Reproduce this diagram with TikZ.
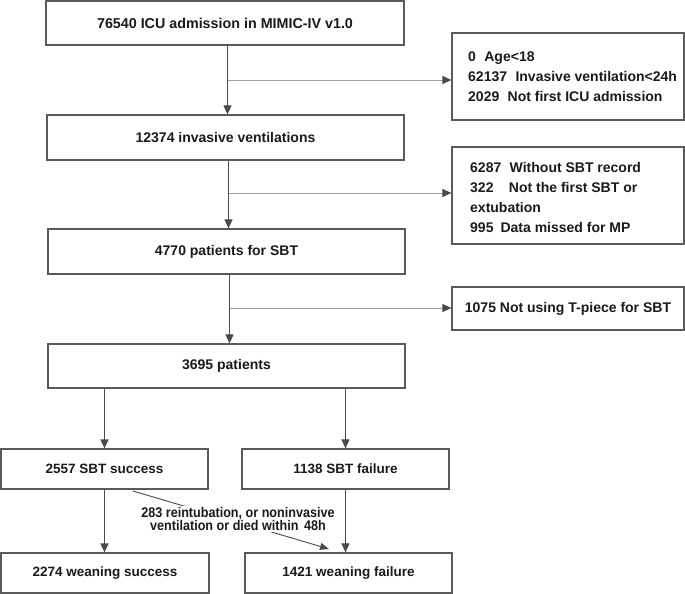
\documentclass[tikz,border=0pt]{standalone}
\usepackage{fontspec}
\setmainfont{Liberation Sans}
\newfontfamily\narrowfont{Liberation Sans}[FakeStretch=0.9]
\usetikzlibrary{arrows.meta}
\definecolor{boxline}{HTML}{5A5A5A}
\definecolor{arrowline}{HTML}{4A4A4A}
\definecolor{branchline}{HTML}{A0A0A0}
\definecolor{txt}{HTML}{1A1A1A}
\tikzset{
  box/.style={draw=boxline, line width=1.2pt, inner sep=0pt, text=txt,
    font=\bfseries\fontsize{14}{16}\selectfont},
  titlebox/.style={box, font=\bfseries\fontsize{14.3}{16}\selectfont},
  smallbox/.style={box, font=\bfseries\fontsize{13.5}{16}\selectfont},
  listtext/.style={anchor=west, align=left, inner sep=0pt, text=txt,
    font=\bfseries\fontsize{14}{20}\selectfont},
  arr/.style={draw=arrowline, line width=1.1pt,
    -{Triangle[length=9pt,width=8pt,color=arrowline]}},
  branch/.style={draw=branchline, line width=1pt,
    -{Triangle[length=9pt,width=8pt,color=arrowline]}},
  note/.style={fill=white, inner sep=1pt, align=center, text=txt,
    font=\narrowfont\bfseries\fontsize{14}{13}\selectfont}
}
\begin{document}
\begin{tikzpicture}[x=1pt,y=-1pt]
\useasboundingbox (0,0) rectangle (685,594);
% main column
\node[titlebox, minimum width=358pt, minimum height=44pt] (b1) at (225,23) {76540 ICU admission in MIMIC-IV v1.0};
\node[box, minimum width=357pt, minimum height=45pt] (b2) at (225.5,137.5) {12374 invasive ventilations};
\node[box, minimum width=357pt, minimum height=45pt] (b3) at (226.5,251.5) {4770 patients for SBT};
\node[box, minimum width=357pt, minimum height=44pt] (b4) at (226.5,366) {3695 patients};
% exclusion boxes
\node[box, minimum width=232pt, minimum height=87pt] (e1) at (568,76.5) {};
\node[listtext] (t1) at (468,77) {0\hspace{0.6em}Age<18\\62137\hspace{0.6em}Invasive ventilation<24h\\2029\hspace{0.6em}Not first ICU admission};
\node[box, minimum width=232pt, minimum height=97pt] (e2) at (568,195.5) {};
\node[listtext] (t2) at (470,197.5) {6287\hspace{0.6em}Without SBT record\\322\hspace{1.1em}Not the first SBT or\\extubation\\995\hspace{0.5em}Data missed for MP};
\node[box, minimum width=232pt, minimum height=43pt] (e3) at (568,308.5) {1075 Not using T-piece for SBT};
% outcome boxes
\node[smallbox, minimum width=207pt, minimum height=40pt] (b5) at (104.5,469) {2557 SBT success};
\node[smallbox, minimum width=207pt, minimum height=40pt] (b6) at (345.5,469) {1138 SBT failure};
\node[smallbox, minimum width=208pt, minimum height=40pt] (b7) at (105,573) {2274 weaning success};
\node[smallbox, minimum width=207pt, minimum height=40pt] (b8) at (348.5,573) {1421 weaning failure};
% junction coordinates
\coordinate (c1) at (227.5,80);
\coordinate (c2) at (228.5,193);
\coordinate (c3) at (229.5,308);
% vertical flow
\draw[arr] (b1.south -| c1) -- (b2.north -| c1);
\draw[arr] (b2.south -| c2) -- (b3.north -| c2);
\draw[arr] (b3.south -| c3) -- (b4.north -| c3);
\draw[branch] (c1) -- (c1 -| e1.west);
\draw[branch] (c2) -- (c2 -| e2.west);
\draw[branch] (c3) -- (c3 -| e3.west);
\draw[arr] (b4.south -| b5) -- (b5.north);
\draw[arr] (b4.south -| b6) -- (b6.north);
\draw[arr] (b5.south) -- (b7.north -| b5);
\draw[arr] (b6.south) -- (b8.north -| b6);
% diagonal with note
\coordinate (d0) at (133,491);
\coordinate (d1) at (329,549);
\draw[draw=arrowline, line width=0.9pt, -{Triangle[length=9pt,width=7pt,color=arrowline]}] (d0) -- (d1);
\node[note] (n1) at (238,519) {283 reintubation, or noninvasive\\ventilation or died within\hspace{0.4em}48h};
\end{tikzpicture}
\end{document}
